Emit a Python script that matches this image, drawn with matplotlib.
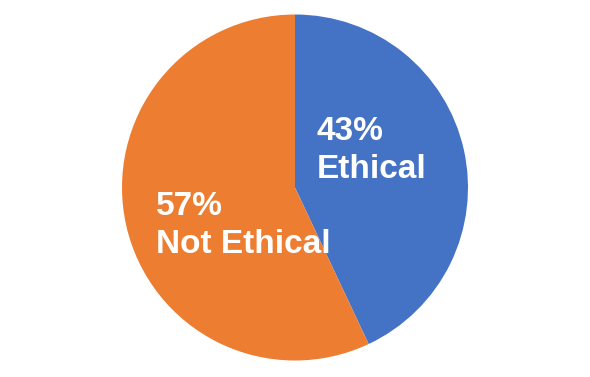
import matplotlib.pyplot as plt

labels = ['Ethical', 'Not Ethical']
values = [43, 57]
colors = ['#4472C4', '#ED7D31']

W, H = 590, 377
cx, cy, r = 295, 187.5, 173  # pie centre / radius in pixels (from top)

fig = plt.figure(figsize=(W / 100, H / 100), dpi=100)
ax = fig.add_axes([0, 0, 1, 1])
ax.pie(values, colors=colors, startangle=90, counterclock=False, radius=1,
       wedgeprops=dict(linewidth=0))
ax.set_xlim(-cx / r, (W - cx) / r)
ax.set_ylim(-(H - cy) / r, cy / r)
ax.set_aspect('equal')
ax.axis('off')

# label anchors (top-left of text block) in pixels
anchors = [(317, 116), (156, 191)]
for (px, py), lab, v in zip(anchors, labels, values):
    ax.text((px - cx) / r, (cy - py) / r, f'{v}%\n{lab}', ha='left', va='top',
            color='white', fontsize=24, fontweight='bold',
            family='Liberation Sans', linespacing=1.3)

fig.savefig('out.png', dpi=100, facecolor='white')
